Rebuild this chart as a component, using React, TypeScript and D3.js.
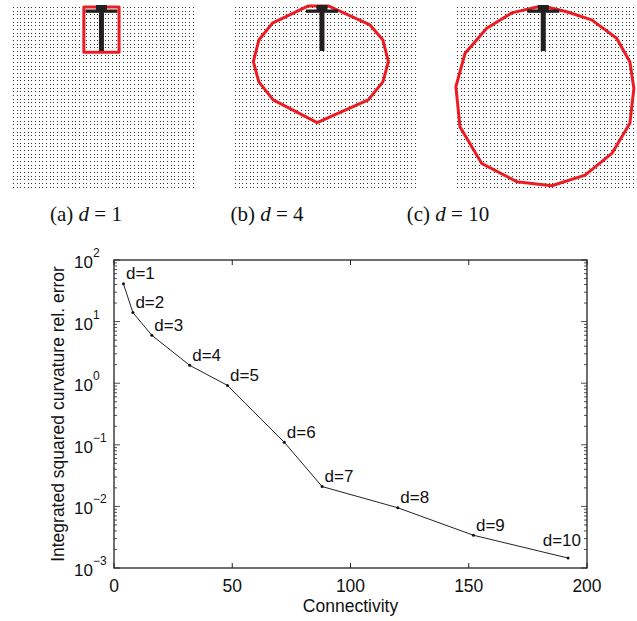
import { useRef, useEffect } from "react";
import * as d3 from "d3";

// connectivity vs integrated squared curvature relative error
const degrees = [1, 2, 3, 4, 5, 6, 7, 8, 9, 10];
const connectivity = [4, 8, 16, 32, 48, 72, 88, 120, 152, 192];
const relError = [41, 14, 6.0, 1.95, 0.92, 0.11, 0.021, 0.0095, 0.0034, 0.00145];
const xTicks = [0, 50, 100, 150, 200];
const yExponents = [-3, -2, -1, 0, 1, 2];

// small panels on top: lattice and optimal curve (grid units)
const panelNames = ["a", "b", "c"];
const panelDegree = [1, 4, 10];
const panelCols = [50, 50, 49];
const panelRows = 50;
const tCenterCol = [24.1, 23.7, 23.5];
const curveA = [[19.3, 0], [28.9, 0], [28.9, 12.3], [19.3, 12.3]];
const curveB = [
  [20.0, -0.3], [10.2, 4.4], [6.5, 9.0], [5.0, 14.9], [6.5, 20.4], [10.4, 25.3], [22.4, 31.5],
  [36.3, 25.3], [40.3, 20.4], [41.8, 14.9], [40.3, 9.0], [36.8, 4.9], [25.4, -0.3],
];
const curveC = [
  [21.8, 0], [14.9, 1.6], [8.1, 5.8], [2.2, 12.6], [-0.3, 21.7], [0.8, 32.6],
  [6.7, 42.6], [16.3, 47.6], [25.8, 48.7], [34.9, 45.8], [42.2, 39.9],
  [47.1, 31.7], [48.2, 22.2], [47.1, 14.9], [43.5, 8.5], [36.7, 3.5],
  [29.9, 1.3], [24.5, 0],
];
const curves = [curveA, curveB, curveC];

const App = () => {
  const svgRef = useRef<SVGSVGElement>(null);

  useEffect(() => {
    const w = 637;
    const h = 621;
    const svg = d3.select(svgRef.current).attr("width", w).attr("height", h);
    svg.selectAll("*").remove();

    // ---- top panels ----
    const step = 3.67;
    const panelX0 = [13, 235, 457];
    const panelY0 = 7;
    const captionX = [86, 267, 448];

    panelNames.forEach((name, p) => {
      const gx = d3.scaleLinear().domain([0, 1]).range([panelX0[p], panelX0[p] + step]);
      const gy = d3.scaleLinear().domain([0, 1]).range([panelY0, panelY0 + step]);
      const g = svg.append("g");

      const dots: [number, number][] = [];
      for (let c = 0; c < panelCols[p]; c++)
        for (let r = 0; r < panelRows; r++) dots.push([c, r]);
      g.selectAll("rect.dot")
        .data(dots)
        .join("rect")
        .attr("x", (d) => Math.round(gx(d[0])))
        .attr("y", (d) => Math.round(gy(d[1])))
        .attr("width", 1)
        .attr("height", 1)
        .attr("fill", "#333");

      g.append("path")
        .attr("d", d3.line().x((d) => gx(d[0])).y((d) => gy(d[1]))(curves[p] as [number, number][]) + "Z")
        .attr("fill", "none")
        .attr("stroke", "#ec1c24")
        .attr("stroke-width", 3)
        .attr("stroke-linejoin", "round");

      // the T
      const cx = gx(tCenterCol[p]);
      g.append("rect").attr("x", cx - 2.5).attr("y", 9).attr("width", 5).attr("height", 42).attr("fill", "#231f20");
      g.append("rect").attr("x", cx - 16).attr("y", 9.5).attr("width", 32).attr("height", 3.3).attr("fill", "#231f20");
      g.append("rect").attr("x", cx - 5.5).attr("y", 5).attr("width", 11).attr("height", 5).attr("fill", "#231f20");

      const cap = svg
        .append("text")
        .attr("x", captionX[p])
        .attr("y", 221)
        .attr("text-anchor", "middle")
        .style("font-family", "Liberation Serif")
        .style("font-size", "21px")
        .attr("fill", "#111");
      cap.append("tspan").text(`(${name}) `);
      cap.append("tspan").style("font-style", "italic").text("d");
      cap.append("tspan").text(` = ${panelDegree[p]}`);
    });

    // ---- main chart ----
    const left = 114;
    const right = 587;
    const top = 260;
    const bottom = 568;
    const xScale = d3.scaleLinear().domain([0, 200]).range([left, right]);
    const yScale = d3.scaleLog().domain([1e-3, 1e2]).range([bottom, top]);
    const font = "Liberation Sans";

    const chart = svg.append("g").style("font-family", font);

    // x ticks (inward, bottom and top)
    xTicks.forEach((t) => {
      chart.append("line").attr("x1", xScale(t)).attr("x2", xScale(t)).attr("y1", bottom).attr("y2", bottom - 5).attr("stroke", "#222");
      chart.append("line").attr("x1", xScale(t)).attr("x2", xScale(t)).attr("y1", top).attr("y2", top + 5).attr("stroke", "#222");
    });
    chart
      .selectAll(".xlab")
      .data(xTicks)
      .join("text")
      .attr("x", (d) => xScale(d))
      .attr("y", 592)
      .attr("text-anchor", "middle")
      .style("font-size", "17.5px")
      .attr("fill", "#111")
      .text((d) => d);

    // y ticks: log scale, majors and minors
    const yt = yScale.ticks();
    yt.forEach((t) => {
      const major = Math.abs(Math.log10(t) - Math.round(Math.log10(t))) < 1e-9;
      const len = major ? 6 : 3;
      const yy = yScale(t);
      chart.append("line").attr("x1", left).attr("x2", left + len).attr("y1", yy).attr("y2", yy).attr("stroke", "#222").attr("stroke-width", 0.8);
      chart.append("line").attr("x1", right).attr("x2", right - len).attr("y1", yy).attr("y2", yy).attr("stroke", "#222").attr("stroke-width", 0.8);
    });
    yExponents.forEach((e) => {
      const yy = yScale(Math.pow(10, e));
      chart.append("text").attr("x", 93).attr("y", yy + 8).attr("text-anchor", "end").style("font-size", "17px").attr("fill", "#111").text("10");
      chart
        .append("text")
        .attr("x", 93)
        .attr("y", yy - 3)
        .style("font-size", "12px")
        .attr("fill", "#111")
        .text(e < 0 ? "\u2212" + Math.abs(e) : String(e));
    });

    // box
    chart
      .append("rect")
      .attr("x", left)
      .attr("y", top)
      .attr("width", right - left)
      .attr("height", bottom - top)
      .attr("fill", "none")
      .attr("stroke", "#222")
      .attr("stroke-width", 1.3);

    // line + markers
    const pts = connectivity.map((c, i) => ({ c, e: relError[i], d: degrees[i] }));
    chart
      .append("path")
      .datum(pts)
      .attr("d", d3.line<any>().x((d) => xScale(d.c)).y((d) => yScale(d.e)))
      .attr("fill", "none")
      .attr("stroke", "#222")
      .attr("stroke-width", 1);
    chart
      .selectAll(".pt")
      .data(pts)
      .join("circle")
      .attr("cx", (d) => xScale(d.c))
      .attr("cy", (d) => yScale(d.e))
      .attr("r", 1.5)
      .attr("fill", "#111");

    chart
      .selectAll(".dlab")
      .data(pts)
      .join("text")
      .each(function (d) {
        const px = xScale(d.c);
        const py = yScale(d.e);
        const t = d3.select(this);
        if (px + 45 > right) {
          t.attr("x", right - 6).attr("y", py - 12).attr("text-anchor", "end");
        } else {
          t.attr("x", px + 2.5).attr("y", py - 4.5);
        }
      })
      .style("font-size", "17px")
      .attr("fill", "#111")
      .text((d) => `d=${d.d}`);

    // axis titles
    chart
      .append("text")
      .attr("x", (left + right) / 2)
      .attr("y", 612)
      .attr("text-anchor", "middle")
      .style("font-size", "17.5px")
      .attr("fill", "#111")
      .text("Connectivity");
    chart
      .append("text")
      .attr("transform", `translate(63.5, ${(top + bottom) / 2}) rotate(-90)`)
      .attr("text-anchor", "middle")
      .style("font-size", "17.5px")
      .attr("fill", "#111")
      .text("Integrated squared curvature rel. error");
  }, []);

  return (
    <svg ref={svgRef} style={{ position: "absolute", left: 0, top: 0, background: "#fff" }}></svg>
  );
};

export default App;
